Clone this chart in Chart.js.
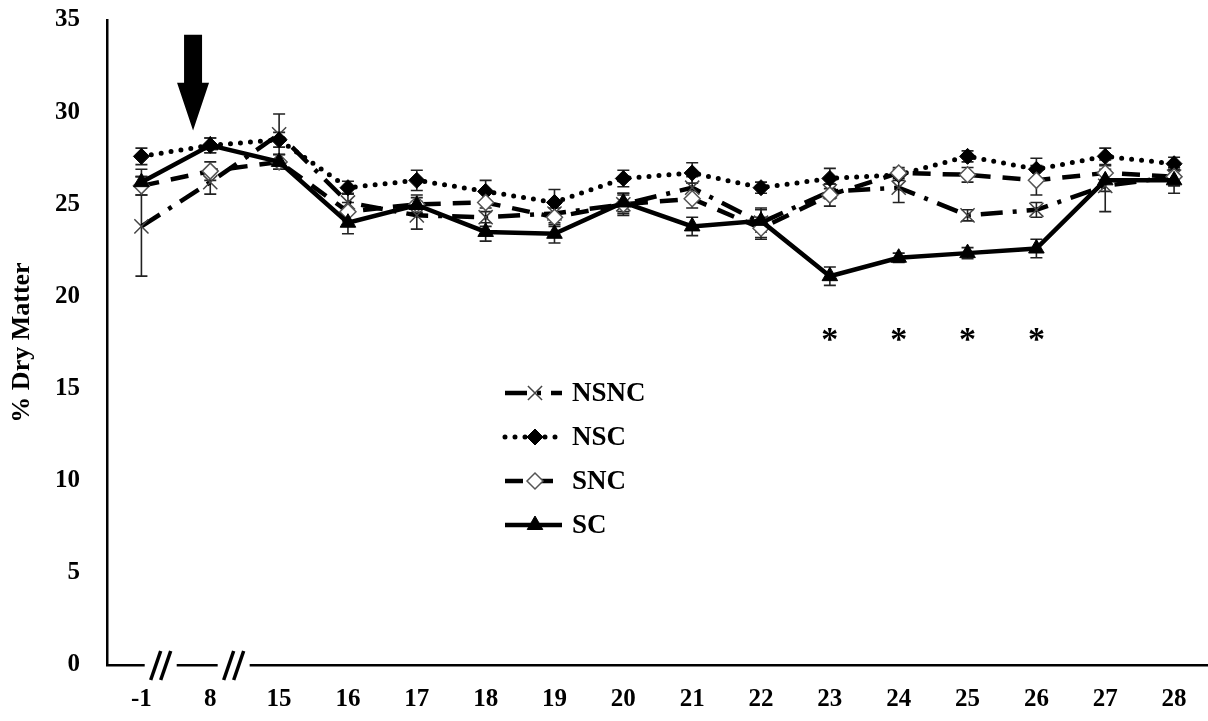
<!DOCTYPE html>
<html>
<head>
<meta charset="utf-8">
<script src="https://cdn.jsdelivr.net/npm/chart.js@4.4.1/dist/chart.umd.min.js"></script>
<style>
  html, body { margin: 0; padding: 0; background: #fff; overflow: hidden; }
  canvas { display: block; }
</style>
</head>
<body>
<canvas id="dmChart" width="1220" height="721"></canvas>
<script>
// sampling days (x categories)
const days = ['-1', '8', '15', '16', '17', '18', '19', '20', '21', '22', '23', '24', '25', '26', '27', '28'];

// % dry matter means and SEM per group
const nsnc = [23.8, 26.2, 28.8, 25.1, 24.4, 24.3, 24.5, 25.0, 25.9, 24.0, 25.7, 25.9, 24.4, 24.7, 26.0, 26.5];
const nsncErr = [2.7, 0.65, 1.1, 0.5, 0.75, 0.5, 0.5, 0.6, 0.6, 0.8, 0.4, 0.8, 0.3, 0.4, 1.4, 0.5];

const nsc = [27.6, 28.2, 28.5, 25.9, 26.3, 25.7, 25.1, 26.4, 26.7, 25.9, 26.4, 26.6, 27.6, 26.9, 27.6, 27.2];
const nscErr = [0.45, 0.4, 0.4, 0.35, 0.55, 0.6, 0.7, 0.45, 0.55, 0.3, 0.55, 0.3, 0.3, 0.6, 0.45, 0.35];

const snc = [26.0, 26.8, 27.3, 24.6, 25.0, 25.1, 24.3, 25.0, 25.3, 23.7, 25.5, 26.7, 26.6, 26.3, 26.7, 26.5];
const sncErr = [0.5, 0.5, 0.4, 0.5, 0.5, 0.5, 0.5, 0.5, 0.5, 0.6, 0.6, 0.3, 0.4, 0.8, 0.4, 0.4];

const sc = [26.2, 28.2, 27.3, 24.0, 24.96, 23.5, 23.4, 25.1, 23.8, 24.1, 21.1, 22.1, 22.35, 22.6, 26.3, 26.3];
const scErr = [0.7, 0.4, 0.4, 0.6, 0.4, 0.5, 0.5, 0.5, 0.5, 0.6, 0.5, 0.25, 0.3, 0.5, 0.6, 0.7];

const yMin = 0, yMax = 35, yStep = 5;

// significant days, marked with an asterisk
const starDays = ['23', '24', '25', '26'];
const starLevel = 17.1;

// arrow marks the treatment start, axis is broken after these days
const arrowDay = '8';
const brokenAfter = ['-1', '8'];

const FONT = '"Liberation Serif", "Times New Roman", serif';

const datasets = [
  {
    label: 'NSNC', data: nsnc, err: nsncErr, order: 3,
    borderColor: '#000', borderWidth: 4.5, borderDash: [22, 10, 4, 10], borderCapStyle: 'butt',
    pointStyle: 'crossRot', pointRadius: 10, pointBorderWidth: 1.5,
    pointBorderColor: '#444', pointBackgroundColor: '#444',
  },
  {
    label: 'NSC', data: nsc, err: nscErr, order: 2,
    borderColor: '#000', borderWidth: 5, borderDash: [0, 10], borderCapStyle: 'round',
    pointStyle: 'rectRot', pointRadius: 8, pointBorderWidth: 1,
    pointBorderColor: '#000', pointBackgroundColor: '#000',
  },
  {
    label: 'SNC', data: snc, err: sncErr, order: 1,
    borderColor: '#000', borderWidth: 4.5, borderDash: [18, 12], borderCapStyle: 'butt',
    pointStyle: 'rectRot', pointRadius: 8, pointBorderWidth: 1.5,
    pointBorderColor: '#555', pointBackgroundColor: '#fff',
  },
  {
    label: 'SC', data: sc, err: scErr, order: 0,
    borderColor: '#000', borderWidth: 4.5, borderDash: [], borderCapStyle: 'butt',
    pointStyle: 'triangle', pointRadius: 9, pointBorderWidth: 1,
    pointBorderColor: '#000', pointBackgroundColor: '#000',
  },
];
datasets.forEach((ds) => {
  ds.fill = false;
  ds.tension = 0;
  ds.pointHoverRadius = ds.pointRadius;
});

// vertical SEM bars with caps, drawn under the markers
const errorBars = {
  id: 'errorBars',
  beforeDatasetsDraw(chart) {
    const { ctx, scales: { y } } = chart;
    ctx.save();
    ctx.strokeStyle = '#222';
    ctx.lineWidth = 1.6;
    ctx.setLineDash([]);
    chart.data.datasets.forEach((ds, di) => {
      const meta = chart.getDatasetMeta(di);
      meta.data.forEach((pt, i) => {
        const e = ds.err[i];
        const top = y.getPixelForValue(ds.data[i] + e);
        const bot = y.getPixelForValue(ds.data[i] - e);
        ctx.beginPath();
        ctx.moveTo(pt.x, top);
        ctx.lineTo(pt.x, bot);
        ctx.moveTo(pt.x - 6, top);
        ctx.lineTo(pt.x + 6, top);
        ctx.moveTo(pt.x - 6, bot);
        ctx.lineTo(pt.x + 6, bot);
        ctx.stroke();
      });
    });
    ctx.restore();
  },
};

// arrow, asterisks, axis breaks and the in-plot legend
const extras = {
  id: 'extras',
  afterDraw(chart) {
    const { ctx, scales: { x, y } } = chart;
    const step = x.getPixelForValue(1) - x.getPixelForValue(0);
    ctx.save();

    // arrow
    const ax = x.getPixelForValue(days.indexOf(arrowDay)) - 0.25 * step;
    const aTop = y.getPixelForValue(34.2);
    const aNeck = y.getPixelForValue(31.6);
    const aTip = y.getPixelForValue(29.0);
    ctx.fillStyle = '#000';
    ctx.beginPath();
    ctx.moveTo(ax - 9, aTop);
    ctx.lineTo(ax + 9, aTop);
    ctx.lineTo(ax + 9, aNeck);
    ctx.lineTo(ax + 16, aNeck);
    ctx.lineTo(ax, aTip);
    ctx.lineTo(ax - 16, aNeck);
    ctx.lineTo(ax - 9, aNeck);
    ctx.closePath();
    ctx.fill();

    // asterisks
    ctx.font = 'bold 34px ' + FONT;
    ctx.textAlign = 'center';
    ctx.textBaseline = 'alphabetic';
    starDays.forEach((d) => {
      ctx.fillText('*', x.getPixelForValue(days.indexOf(d)), y.getPixelForValue(starLevel));
    });

    // axis breaks
    const axisY = chart.chartArea.bottom;
    brokenAfter.forEach((d, k) => {
      const cx = x.getPixelForValue(days.indexOf(d)) + (k === 0 ? 0.28 : 0.34) * step;
      ctx.fillStyle = '#fff';
      ctx.fillRect(cx - 16, axisY - 4, 32, 8);
      ctx.strokeStyle = '#000';
      ctx.lineWidth = 3.5;
      ctx.lineCap = 'butt';
      [-5, 5].forEach((dx) => {
        ctx.beginPath();
        ctx.moveTo(cx + dx - 5, axisY + 15);
        ctx.lineTo(cx + dx + 5, axisY - 14);
        ctx.stroke();
      });
    });

    // legend
    const lx = 505, ly = 393, rowGap = 44, sampleW = 57;
    chart.data.datasets.forEach((ds, i) => {
      const yy = ly + i * rowGap;
      ctx.strokeStyle = ds.borderColor;
      ctx.lineWidth = ds.borderWidth;
      ctx.lineCap = ds.borderCapStyle;
      ctx.setLineDash(ds.borderDash);
      ctx.beginPath();
      ctx.moveTo(lx, yy);
      ctx.lineTo(lx + sampleW, yy);
      ctx.stroke();
      ctx.setLineDash([]);
      ctx.lineCap = 'butt';
      ctx.fillStyle = ds.pointBackgroundColor;
      ctx.strokeStyle = ds.pointBorderColor;
      ctx.lineWidth = ds.pointBorderWidth;
      Chart.helpers.drawPoint(ctx, {
        pointStyle: ds.pointStyle, radius: ds.pointRadius, borderWidth: ds.pointBorderWidth, rotation: 0,
      }, lx + 30, yy);
      ctx.fillStyle = '#000';
      ctx.font = 'bold 27px ' + FONT;
      ctx.textAlign = 'left';
      ctx.textBaseline = 'middle';
      ctx.fillText(ds.label, 572, yy + 1);
    });

    ctx.restore();
  },
};

new Chart(document.getElementById('dmChart'), {
  type: 'line',
  data: { labels: days, datasets },
  options: {
    responsive: false,
    animation: false,
    events: [],
    layout: { padding: { top: 20, right: 1, left: 0, bottom: 0 } },
    plugins: { legend: { display: false }, tooltip: { enabled: false } },
    scales: {
      x: {
        offset: true,
        grid: { display: false, drawTicks: false },
        border: { display: true, color: '#000', width: 2.5 },
        ticks: { color: '#000', padding: 20, font: { family: FONT, size: 25, weight: 'bold' } },
        afterFit(scale) {
          scale.height = 56;
          scale.paddingLeft = 0;
          scale.paddingRight = 0;
        },
      },
      y: {
        min: yMin,
        max: yMax,
        grid: { display: false, drawTicks: false },
        border: { display: true, color: '#000', width: 2.5 },
        ticks: { stepSize: yStep, color: '#000', padding: 27, font: { family: FONT, size: 25, weight: 'bold' } },
        title: {
          display: true, text: '% Dry Matter', color: '#000',
          padding: { top: 7, bottom: 0 },
          font: { family: FONT, size: 26, weight: 'bold' },
        },
        afterFit(scale) {
          scale.width = 107;
          scale.paddingTop = 0;
          scale.paddingBottom = 0;
        },
      },
    },
  },
  plugins: [errorBars, extras],
});
</script>
</body>
</html>
